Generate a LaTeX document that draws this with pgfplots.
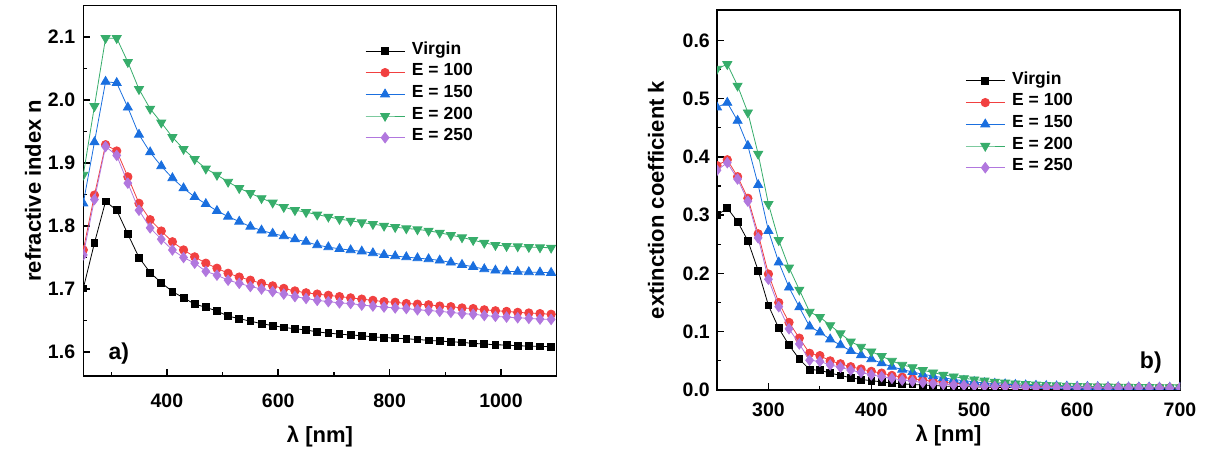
\documentclass[border=0pt]{standalone}
\usepackage{pgfplots}
\pgfplotsset{compat=1.18}
\usepackage{fontspec}
\setmainfont{Liberation Sans}
\definecolor{cred}{HTML}{F14040}
\definecolor{cblue}{HTML}{1A6FDF}
\definecolor{cgreen}{HTML}{37AD6B}
\definecolor{cpurple}{HTML}{B177DE}
\pgfplotsset{
  myax/.style={
    scale only axis,
    anchor=south west,
    clip marker paths=true,
    axis line style={line width=1.5pt},
    tick align=inside,
    xtick pos=bottom, ytick pos=left,
    major tick length=7pt, minor tick length=4pt,
    every tick/.style={line width=1.5pt, black},
    minor tick style={line width=1.2pt},
    /pgf/number format/assume math mode=true,
    /pgf/number format/1000 sep={},
    ticklabel style={font=\fontsize{19.5}{19.5}\selectfont\bfseries},
    label style={font=\fontsize{22}{22}\selectfont\bfseries},
    legend cell align=left,
    legend image code/.code={\draw[mark repeat=2,mark phase=2] plot coordinates {(0pt,0pt) (19.5pt,0pt) (39pt,0pt)};},
    every axis plot/.append style={line width=0.8pt},
  },
  sblack/.style={color=black, mark=square*, mark size=3.4pt, mark options={solid}},
  sred/.style={color=cred, mark=*, mark size=4.2pt, mark options={solid}},
  sblue/.style={color=cblue, mark=triangle*, mark size=5.2pt, mark options={solid}},
  sgreen/.style={color=cgreen, mark=triangle*, mark size=5.2pt, mark options={solid, rotate=180}},
  spurple/.style={color=cpurple, mark=diamond*, mark size=5.2pt, mark options={solid}},
}
\begin{document}
\begin{tikzpicture}
\useasboundingbox (0pt,0pt) rectangle (1205pt,452pt);
% ---------------- left panel ----------------
\begin{axis}[myax,
  at={(83.3pt,76pt)}, width=473.4pt, height=370.6pt,
  xmin=250, xmax=1100, ymin=1.562, ymax=2.15,
  xtick={400,600,800,1000}, minor xtick={300,500,700,900},
  ytick={1.6,1.7,1.8,1.9,2.0,2.1}, minor ytick={1.65,1.75,1.85,1.95,2.05},
  yticklabel style={/pgf/number format/fixed, /pgf/number format/fixed zerofill, /pgf/number format/precision=1, anchor=east, inner sep=0pt, xshift=-8pt},
  xticklabel style={anchor=center, yshift=-24.5pt},
  xlabel={λ [nm]}, ylabel={refractive index n},
  xlabel style={at={(axis description cs:0.5,-0.1646)}, anchor=center},
  ylabel style={at={(axis description cs:-0.106,0.5)}, anchor=center},
  legend style={draw=none, fill=none, at={(0.595,0.907)}, anchor=north west,
    font=\fontsize{17.5}{17.5}\selectfont\bfseries, inner sep=0pt, row sep=0pt,
    nodes={inner sep=0pt, text height=14pt, text depth=7.7pt},
    /tikz/every odd column/.append style={column sep=7pt}},
]
\addplot[sblack] coordinates {
(250,1.701)(270,1.773)(290,1.839)(310,1.825)(330,1.787)(350,1.750)(370,1.726)(390,1.710)(410,1.696)(430,1.686)
(450,1.676)(470,1.671)(490,1.665)(510,1.657)(530,1.653)(550,1.649)(570,1.645)(590,1.642)(610,1.639)(630,1.637)
(650,1.635)(670,1.632)(690,1.630)(710,1.6285)(730,1.627)(750,1.626)(770,1.624)(790,1.623)(810,1.622)(830,1.621)
(850,1.620)(870,1.6185)(890,1.6174)(910,1.6164)(930,1.6153)(950,1.6138)(970,1.6127)(990,1.6116)(1010,1.6111)(1030,1.610)
(1050,1.6095)(1070,1.609)(1090,1.6084)};
\addlegendentry{Virgin}
\addplot[sred] coordinates {
(250,1.762)(270,1.849)(290,1.929)(310,1.919)(330,1.878)(350,1.836)(370,1.810)(390,1.792)(410,1.775)(430,1.762)
(450,1.751)(470,1.741)(490,1.733)(510,1.725)(530,1.719)(550,1.714)(570,1.709)(590,1.705)(610,1.701)(630,1.697)
(650,1.694)(670,1.692)(690,1.690)(710,1.688)(730,1.686)(750,1.684)(770,1.682)(790,1.680)(810,1.679)(830,1.677)
(850,1.676)(870,1.675)(890,1.673)(910,1.672)(930,1.670)(950,1.669)(970,1.667)(990,1.6655)(1010,1.6645)(1030,1.663)
(1050,1.662)(1070,1.661)(1090,1.660)};
\addlegendentry{E = 100}
\addplot[sblue] coordinates {
(250,1.836)(270,1.933)(290,2.029)(310,2.027)(330,1.988)(350,1.945)(370,1.917)(390,1.895)(410,1.876)(430,1.860)
(450,1.846)(470,1.835)(490,1.824)(510,1.815)(530,1.807)(550,1.799)(570,1.793)(590,1.788)(610,1.784)(630,1.779)
(650,1.775)(670,1.7697)(690,1.7665)(710,1.7638)(730,1.7617)(750,1.7597)(770,1.757)(790,1.7543)(810,1.7522)(830,1.7507)
(850,1.749)(870,1.7475)(890,1.7454)(910,1.7422)(930,1.7385)(950,1.7353)(970,1.7316)(990,1.7295)(1010,1.728)(1030,1.7274)
(1050,1.7269)(1070,1.7264)(1090,1.7258)};
\addlegendentry{E = 150}
\addplot[sgreen] coordinates {
(250,1.881)(270,1.990)(290,2.098)(310,2.098)(330,2.060)(350,2.017)(370,1.986)(390,1.964)(410,1.941)(430,1.922)
(450,1.906)(470,1.891)(490,1.881)(510,1.870)(530,1.860)(550,1.852)(570,1.844)(590,1.837)(610,1.830)(630,1.825)
(650,1.822)(670,1.818)(690,1.8146)(710,1.8109)(730,1.8083)(750,1.8056)(770,1.803)(790,1.8003)(810,1.7982)(830,1.7961)
(850,1.7946)(870,1.7924)(890,1.7892)(910,1.7855)(930,1.7819)(950,1.7776)(970,1.7733)(990,1.7697)(1010,1.7681)(1030,1.7676)
(1050,1.7665)(1070,1.766)(1090,1.7654)};
\addlegendentry{E = 200}
\addplot[spurple] coordinates {
(250,1.754)(270,1.842)(290,1.926)(310,1.912)(330,1.868)(350,1.825)(370,1.797)(390,1.779)(410,1.762)(430,1.750)
(450,1.741)(470,1.728)(490,1.722)(510,1.714)(530,1.709)(550,1.704)(570,1.700)(590,1.696)(610,1.692)(630,1.688)
(650,1.685)(670,1.682)(690,1.680)(710,1.678)(730,1.677)(750,1.6745)(770,1.673)(790,1.6714)(810,1.670)(830,1.669)
(850,1.667)(870,1.666)(890,1.6645)(910,1.663)(930,1.661)(950,1.660)(970,1.658)(990,1.6566)(1010,1.6555)(1030,1.6544)
(1050,1.6534)(1070,1.6523)(1090,1.6518)};
\addlegendentry{E = 250}
\node[font=\fontsize{23}{23}\selectfont\bfseries, anchor=center] at (rel axis cs:0.075,0.06) {a)};
\end{axis}
% ---------------- right panel ----------------
\begin{axis}[myax,
  at={(717pt,62pt)}, width=463pt, height=380pt,
  xmin=250, xmax=700, ymin=0, ymax=0.652,
  xtick={300,400,500,600,700}, minor xtick={350,450,550,650},
  ytick={0,0.1,0.2,0.3,0.4,0.5,0.6}, minor ytick={0.05,0.15,0.25,0.35,0.45,0.55},
  yticklabel style={/pgf/number format/fixed, /pgf/number format/fixed zerofill, /pgf/number format/precision=1, anchor=east, inner sep=0pt, xshift=-7pt},
  xticklabel style={anchor=center, yshift=-19.5pt},
  xlabel={λ [nm]}, ylabel={extinction coefficient k},
  xlabel style={at={(axis description cs:0.5,-0.121)}, anchor=center},
  ylabel style={at={(axis description cs:-0.132,0.5)}, anchor=center},
  legend style={draw=none, fill=none, at={(0.536,0.8425)}, anchor=north west,
    font=\fontsize{17.5}{17.5}\selectfont\bfseries, inner sep=0pt, row sep=0pt,
    nodes={inner sep=0pt, text height=14pt, text depth=7.7pt},
    /tikz/every odd column/.append style={column sep=7pt}},
]
\addplot[sblack] coordinates {
(250,0.300)(260,0.312)(270,0.289)(280,0.256)(290,0.205)(300,0.145)(310,0.106)(320,0.077)(330,0.053)(340,0.035)
(350,0.034)(360,0.029)(370,0.025)(380,0.021)(390,0.018)(400,0.016)(410,0.014)(420,0.012)(430,0.0105)(440,0.0095)
(450,0.0085)(460,0.0076)(470,0.0068)(480,0.0062)(490,0.0057)(500,0.0053)(510,0.0049)(520,0.0046)(530,0.0043)(540,0.0041)
(550,0.0039)(560,0.0037)(570,0.0035)(580,0.0034)(590,0.0033)(600,0.0032)(610,0.0031)(620,0.0030)(630,0.0029)(640,0.0028)
(650,0.0028)(660,0.0027)(670,0.0027)(680,0.0026)(690,0.0026)(700,0.0025)};
\addlegendentry{Virgin}
\addplot[sred] coordinates {
(250,0.385)(260,0.395)(270,0.366)(280,0.329)(290,0.268)(300,0.199)(310,0.150)(320,0.116)(330,0.089)(340,0.063)
(350,0.059)(360,0.050)(370,0.045)(380,0.040)(390,0.036)(400,0.032)(410,0.029)(420,0.025)(430,0.022)(440,0.019)
(450,0.017)(460,0.015)(470,0.013)(480,0.0118)(490,0.0105)(500,0.0095)(510,0.0088)(520,0.0081)(530,0.0075)(540,0.0070)
(550,0.0066)(560,0.0062)(570,0.0059)(580,0.0056)(590,0.0053)(600,0.0051)(610,0.0049)(620,0.0047)(630,0.0045)(640,0.0044)
(650,0.0043)(660,0.0042)(670,0.0041)(680,0.0040)(690,0.0039)(700,0.0038)};
\addlegendentry{E = 100}
\addplot[sblue] coordinates {
(250,0.485)(260,0.493)(270,0.462)(280,0.419)(290,0.352)(300,0.273)(310,0.219)(320,0.176)(330,0.142)(340,0.109)
(350,0.099)(360,0.087)(370,0.077)(380,0.067)(390,0.060)(400,0.053)(410,0.046)(420,0.040)(430,0.035)(440,0.031)
(450,0.027)(460,0.024)(470,0.021)(480,0.018)(490,0.016)(500,0.014)(510,0.012)(520,0.011)(530,0.010)(540,0.009)
(550,0.0082)(560,0.0075)(570,0.0070)(580,0.0065)(590,0.0061)(600,0.0058)(610,0.0055)(620,0.0052)(630,0.0050)(640,0.0048)
(650,0.0046)(660,0.0045)(670,0.0044)(680,0.0043)(690,0.0042)(700,0.0041)};
\addlegendentry{E = 150}
\addplot[sgreen] coordinates {
(250,0.551)(260,0.559)(270,0.522)(280,0.476)(290,0.405)(300,0.319)(310,0.257)(320,0.210)(330,0.172)(340,0.134)
(350,0.125)(360,0.111)(370,0.097)(380,0.083)(390,0.074)(400,0.066)(410,0.058)(420,0.050)(430,0.043)(440,0.039)
(450,0.034)(460,0.030)(470,0.026)(480,0.023)(490,0.020)(500,0.018)(510,0.016)(520,0.014)(530,0.0125)(540,0.011)
(550,0.010)(560,0.0092)(570,0.0085)(580,0.0078)(590,0.0072)(600,0.0067)(610,0.0063)(620,0.0060)(630,0.0057)(640,0.0054)
(650,0.0052)(660,0.0050)(670,0.0048)(680,0.0047)(690,0.0046)(700,0.0045)};
\addlegendentry{E = 200}
\addplot[spurple] coordinates {
(250,0.377)(260,0.390)(270,0.362)(280,0.324)(290,0.261)(300,0.190)(310,0.143)(320,0.105)(330,0.079)(340,0.051)
(350,0.049)(360,0.043)(370,0.039)(380,0.034)(390,0.030)(400,0.026)(410,0.023)(420,0.020)(430,0.017)(440,0.015)
(450,0.013)(460,0.011)(470,0.0098)(480,0.0088)(490,0.0080)(500,0.0073)(510,0.0067)(520,0.0062)(530,0.0058)(540,0.0054)
(550,0.0051)(560,0.0048)(570,0.0046)(580,0.0044)(590,0.0042)(600,0.0041)(610,0.0040)(620,0.0039)(630,0.0038)(640,0.0037)
(650,0.0036)(660,0.0036)(670,0.0035)(680,0.0035)(690,0.0034)(700,0.0034)};
\addlegendentry{E = 250}
\node[font=\fontsize{23}{23}\selectfont\bfseries, anchor=center] at (rel axis cs:0.937,0.071) {b)};
\end{axis}
\end{tikzpicture}
\end{document}
